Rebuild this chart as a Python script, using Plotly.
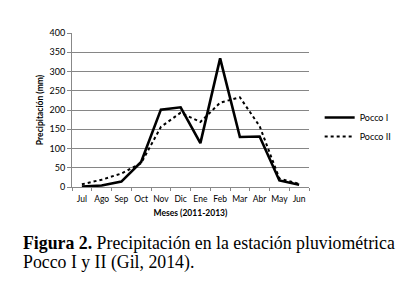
import plotly.graph_objects as go

months = ["Jul", "Ago", "Sep", "Oct", "Nov", "Dic", "Ene", "Feb", "Mar", "Abr", "May", "Jun"]
pocco1 = [1, 4, 14, 65, 201, 207, 114, 334, 130, 131, 17, 6]
pocco2 = [7, 19, 35, 62, 156, 193, 169, 219, 233, 158, 22, 8]
y_ticks = [0, 50, 100, 150, 200, 250, 300, 350, 400]

font_axis = "Lato, Open Sans, sans-serif"
serif = "Liberation Serif, DejaVu Serif, serif"

fig = go.Figure()
fig.add_trace(go.Scatter(x=months, y=pocco1, mode="lines", name="Pocco I",
                         line=dict(color="black", width=2.6)))
fig.add_trace(go.Scatter(x=months, y=pocco2, mode="lines", name="Pocco II",
                         line=dict(color="black", width=2, dash="dot")))

fig.update_layout(
    width=417, height=281,
    margin=dict(l=72, r=108, t=33, b=94),
    paper_bgcolor="white", plot_bgcolor="white",
    font=dict(family=font_axis, size=9, color="black"),
    showlegend=True,
    legend=dict(x=1.045, y=0.39, xanchor="left", yanchor="middle",
                font=dict(size=9), tracegroupgap=2, itemwidth=30,
                bgcolor="rgba(0,0,0,0)"),
    xaxis=dict(
        type="category", tickson="boundaries", ticks="outside", ticklen=3,
        tickcolor="#888", showline=True, linecolor="#888", linewidth=1,
        showgrid=False, tickfont=dict(size=8.5), tickangle=0, automargin=False,
        ticklabelstandoff=4,
        title=dict(text="<b>Meses (2011-2013)</b>", font=dict(size=8.5), standoff=6),
        range=[-0.5, 11.5],
    ),
    yaxis=dict(
        range=[0, 400], tickvals=y_ticks, ticks="outside", ticklen=4,
        tickcolor="#888", showline=True, linecolor="#888", linewidth=1,
        showgrid=True, gridcolor="#868686", gridwidth=1, zeroline=False,
        tickfont=dict(size=9), automargin=False,
        title=dict(text="<b>Precipitación (mm)</b>", font=dict(size=8.5), standoff=4),
    ),
    annotations=[
        dict(text="<b>Figura 2.</b> Precipitación en la estación pluviométrica",
             xref="paper", yref="paper", x=(22 - 72) / 237, y=-0.365,
             xanchor="left", yanchor="middle", showarrow=False, borderpad=0,
             font=dict(family=serif, size=17.8, color="black")),
        dict(text="Pocco I y II (Gil, 2014).",
             xref="paper", yref="paper", x=(22 - 72) / 237, y=-0.49,
             xanchor="left", yanchor="middle", showarrow=False, borderpad=0,
             font=dict(family=serif, size=17.8, color="black")),
    ],
)

fig.write_html("out.html", config={"displayModeBar": False},
               post_script="document.body.style.margin='0';")
